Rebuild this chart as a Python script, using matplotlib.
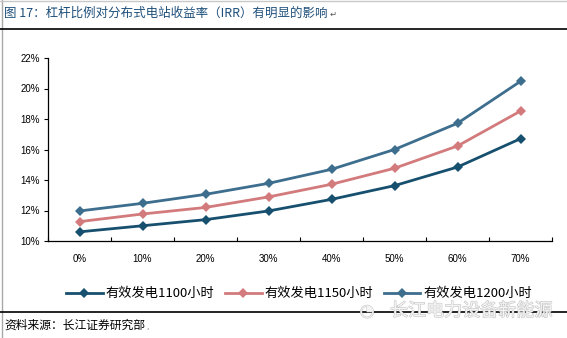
import matplotlib
matplotlib.use("Agg")
import matplotlib.pyplot as plt
import matplotlib.patheffects as pe
from matplotlib.lines import Line2D

plt.rcParams['font.family'] = ['Noto Sans CJK SC', 'DejaVu Sans']

# Leverage ratio categories and IRR (%) for three effective generation-hour scenarios
categories = ["0%", "10%", "20%", "30%", "40%", "50%", "60%", "70%"]
irr_1100 = [10.6, 11.0, 11.4, 11.97, 12.73, 13.63, 14.85, 16.71]
irr_1150 = [11.27, 11.77, 12.2, 12.89, 13.72, 14.77, 16.23, 18.52]
irr_1200 = [11.97, 12.47, 13.06, 13.78, 14.7, 16.0, 17.72, 20.47]
series_names = ["有效发电1100小时", "有效发电1150小时", "有效发电1200小时"]
y_ticks = [10, 12, 14, 16, 18, 20, 22]

title = "图 17：杠杆比例对分布式电站收益率（IRR）有明显的影响"
source = "资料来源：长江证券研究部"
watermark = "长江电力设备新能源"

colors = ["#17506f", "#d27a7c", "#3d6e8e"]

W, H = 567, 338
fig = plt.figure(figsize=(W / 100, H / 100), dpi=100)

# page decorations: frame edge and rules
fig.add_artist(Line2D([2 / W, 2 / W], [0, 1], color="#a8a8a8", lw=1.0))
fig.add_artist(Line2D([0, 1], [1 - 0.5 / H, 1 - 0.5 / H], color="#c8c8c8", lw=1.0))
fig.add_artist(Line2D([0, 1], [1 - 28.5 / H, 1 - 28.5 / H], color="black", lw=1.2))
fig.add_artist(Line2D([0, 1], [1 - 311.5 / H, 1 - 311.5 / H], color="black", lw=1.2))

fig.text(4 / W, 1 - 13 / H, title, color="#1f507c", fontsize=9, va="center", ha="left")
fig.text(330 / W, 1 - 14 / H, "↵", color="#555555", fontsize=6, va="center", ha="left",
         family=["DejaVu Sans"])

left, right = 48 / W, 552 / W
bottom, top = 1 - 241 / H, 1 - 58 / H
ax = fig.add_axes([left, bottom, right - left, top - bottom])

x = list(range(len(categories)))
for vals, c, name in zip([irr_1100, irr_1150, irr_1200], colors, series_names):
    ax.plot(x, vals, color=c, lw=2.0, marker="D", markersize=5.2,
            markeredgewidth=0, label=name, solid_joinstyle="round")

ax.set_xlim(-0.5, len(categories) - 0.5)
ax.set_ylim(10, 22)
ax.set_yticks(y_ticks)
ax.set_yticklabels([f"{v}%" for v in y_ticks], family=["Liberation Sans"], fontsize=7)
ax.set_xticks(x)
ax.set_xticklabels(categories, family=["Liberation Sans"], fontsize=7)
ax.set_xticks([i + 0.5 for i in range(-1, len(categories))], minor=True)
ax.tick_params(axis="x", which="major", length=0, pad=9)
ax.tick_params(axis="x", which="minor", length=3, direction="in", width=0.8)
ax.tick_params(axis="y", length=3, direction="out", width=0.8, pad=3)
for s in ["top", "right"]:
    ax.spines[s].set_visible(False)
for s in ["left", "bottom"]:
    ax.spines[s].set_linewidth(0.9)

handles, labels = ax.get_legend_handles_labels()
fig.legend(handles, labels, loc="center", bbox_to_anchor=(0.527, 1 - 294 / H), ncol=3,
           frameon=False, fontsize=9.5, handlelength=2.8, handletextpad=0.2,
           columnspacing=0.8)

# watermark
fig.text(390 / W, 1 - 311 / H, watermark, fontsize=13, color="#f4f4f4", va="center",
         ha="left", path_effects=[pe.withStroke(linewidth=0.8, foreground="#c4c4c4")])
fig.text(367 / W, 1 - 311 / H, "◔", fontsize=12, color="#f4f4f4", va="center", ha="center",
         family=["DejaVu Sans"],
         path_effects=[pe.withStroke(linewidth=0.8, foreground="#c8c8c8")])

fig.text(4 / W, 1 - 325 / H, source, fontsize=8.5, color="black", va="center", ha="left")
fig.text(146 / W, 1 - 327 / H, ",", fontsize=5, color="#555555", va="center", ha="left",
         family=["DejaVu Sans"])

fig.savefig("out.png", dpi=100)
